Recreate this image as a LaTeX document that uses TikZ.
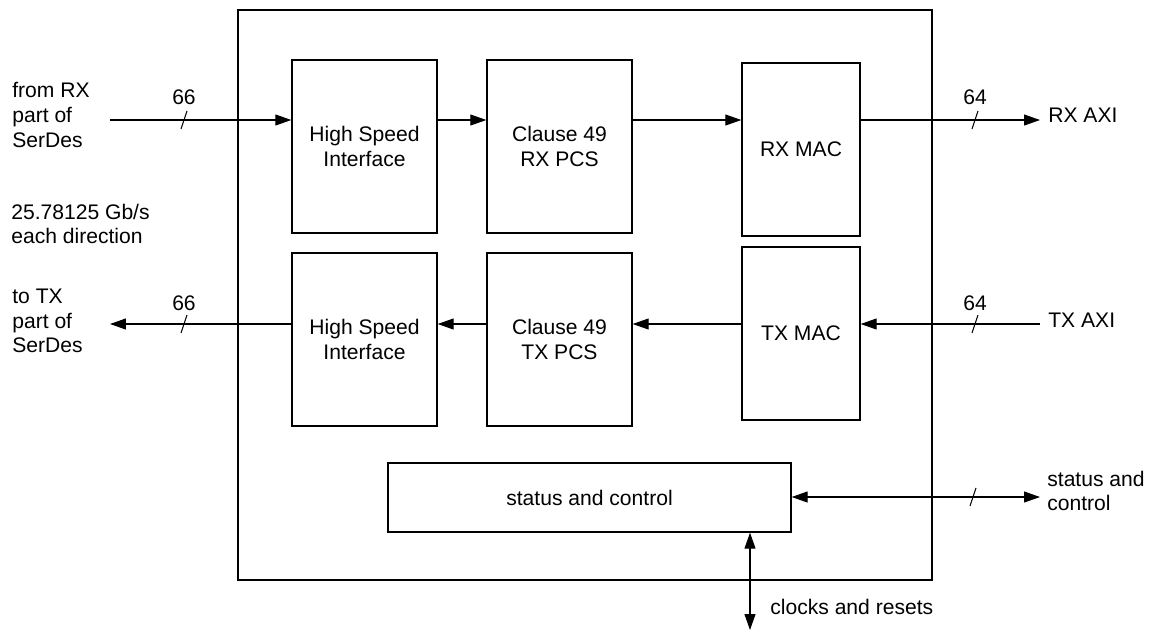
\documentclass[tikz,border=0pt]{standalone}
\usepackage{fontspec}
\setmainfont{Liberation Sans}
\usetikzlibrary{arrows.meta}

\tikzset{
    blk/.style={draw,line width=0.8pt,minimum width=2.9cm,minimum height=3.46cm,align=center,inner sep=0pt},
    lbl/.style={align=left,anchor=west,inner sep=0pt},
    sig/.style={line width=0.6pt,-{Triangle[length=0.32cm,width=0.22cm]}},
    bisig/.style={line width=0.6pt,{Triangle[length=0.32cm,width=0.22cm]}-{Triangle[length=0.32cm,width=0.22cm]}},
    busmark/.style={line width=0.6pt}
}

\begin{document}
\begin{tikzpicture}[x=0.02cm,y=-0.02cm,font=\fontsize{12}{14}\selectfont]
\useasboundingbox (0,0) rectangle (1154,630);

\node[draw,line width=1.4pt,minimum width=13.88cm,minimum height=11.4cm] (core) at (585,295) {};

\begin{scope}[every node/.style={blk}]
    \node (hsirx) at (364.5,146.5) {High Speed\\Interface};
    \node (pcsrx) at (559.5,146.5) {Clause 49\\RX PCS};
    \node[minimum width=2.36cm] (macrx) at (801,149.5) {RX MAC};
    \node (hsitx) at (364.5,339.5) {High Speed\\Interface};
    \node (pcstx) at (559.5,339.5) {Clause 49\\TX PCS};
    \node[minimum width=2.36cm] (mactx) at (801,333.5) {TX MAC};
    \node[minimum width=8.06cm,minimum height=1.38cm] (stat) at (589.5,497.5) {status and control};
\end{scope}

\begin{scope}[every node/.style={lbl}]
    \node (serrx) at (12,115) {from RX\\part of\\SerDes};
    \node (rate) at (11,224) {25.78125 Gb/s\\each direction};
    \node (sertx) at (12,321) {to TX\\part of\\SerDes};
    \node (axirx) at (1048,115) {RX AXI};
    \node (axitx) at (1048,320) {TX AXI};
    \node (statout) at (1047,491) {status and\\control};
    \node (clkrst) at (770,607) {clocks and resets};
\end{scope}

\coordinate (inrx) at (110,120);
\coordinate (outtx) at (110,324);
\coordinate (outrx) at (1040,120);
\coordinate (intx) at (1040,324);
\coordinate (stc) at (1040,497);
\coordinate (clk) at (750,630);

% rx path
\draw[sig] (inrx) -- (inrx -| hsirx.west);
\draw[sig] (hsirx.east |- inrx) -- (inrx -| pcsrx.west);
\draw[sig] (pcsrx.east |- inrx) -- (inrx -| macrx.west);
\draw[sig] (macrx.east |- outrx) -- (outrx);

% tx path
\draw[sig] (intx) -- (intx -| mactx.east);
\draw[sig] (mactx.west |- intx) -- (intx -| pcstx.east);
\draw[sig] (pcstx.west |- intx) -- (intx -| hsitx.east);
\draw[sig] (hsitx.west |- outtx) -- (outtx);

\draw[bisig] (stat.east |- stc) -- (stc);
\draw[bisig] (clk |- stat.south) -- (clk);

% bus widths
\node (w1) at (184,97) {66};
\node (w2) at (184,303) {66};
\node (w3) at (975,97) {64};
\node (w4) at (975,303) {64};
\draw[busmark] (187,111) -- (181,129);
\draw[busmark] (187,315) -- (181,333);
\draw[busmark] (978,111) -- (972,129);
\draw[busmark] (978,315) -- (972,333);
\draw[busmark] (976,488) -- (970,506);
\end{tikzpicture}
\end{document}
